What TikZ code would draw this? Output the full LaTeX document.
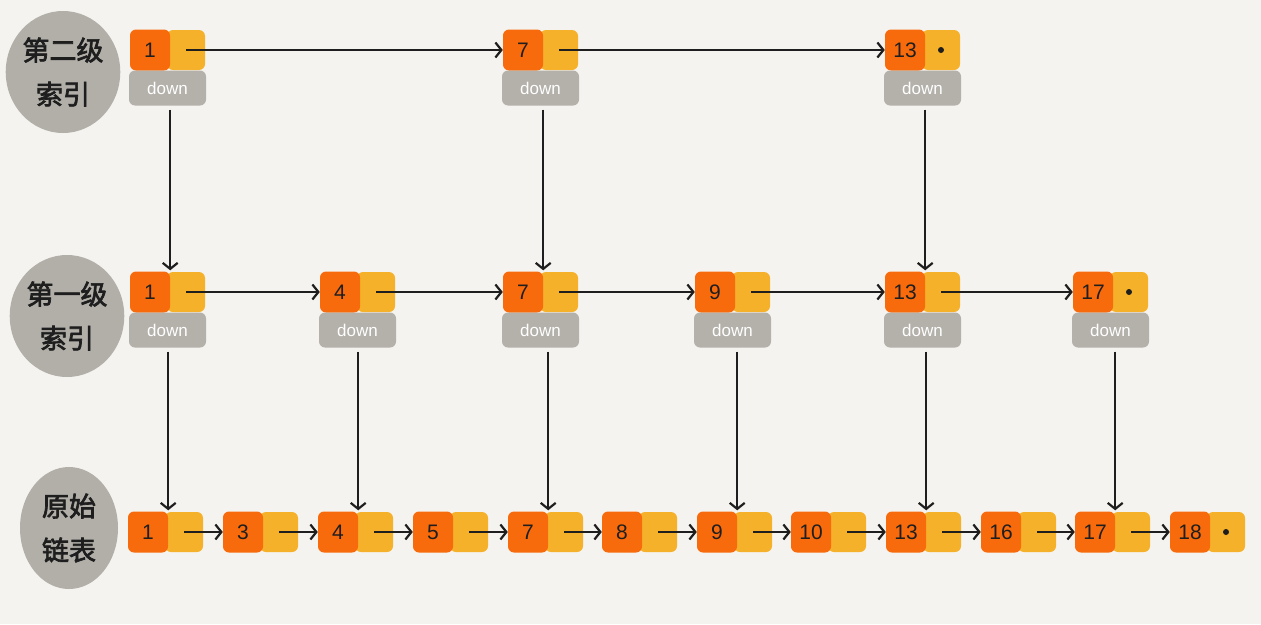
\documentclass[tikz,border=0pt]{standalone}
\usepackage{fontspec}
\setmainfont{Liberation Sans}
\newfontfamily\cjk[AutoFakeBold=2.5]{Noto Sans CJK SC}
\usetikzlibrary{arrows.meta,shapes.geometric}
\definecolor{bg}{HTML}{F5F3EF}
\definecolor{org}{HTML}{F86B0C}
\definecolor{yel}{HTML}{F5B12A}
\definecolor{dgray}{HTML}{B4B0AA}
\definecolor{blobc}{HTML}{B2AFA9}
\definecolor{ink}{HTML}{1E1E1E}
\tikzset{
  obox/.style={fill=org, rounded corners=6pt, minimum width=40pt, minimum height=41pt, inner sep=0pt, text=ink, font=\fontsize{21}{21}\selectfont},
  ybox/.style={fill=yel, rounded corners=6pt, minimum width=38pt, minimum height=40pt, inner sep=0pt},
  dbox/.style={fill=dgray, rounded corners=6pt, minimum width=77pt, minimum height=35pt, inner sep=0pt, text=white, font=\fontsize{17}{17}\selectfont},
  blob/.style={ellipse, fill=blobc, minimum width=98pt, minimum height=122pt, inner sep=0pt, align=center, text=ink, font=\cjk\bfseries\fontsize{27}{44}\selectfont},
  link/.style={draw=ink, line width=2.2pt, -{Straight Barb[length=6pt,width=15pt]}},
  nilp/.style={circle, fill=ink, inner sep=0pt, minimum size=6pt},
}
\newcommand\lnode[4]{%
  \node[ybox] (#1y) at (#2+36,#3) {};
  \node[obox] (#1o) at (#2,#3) {#4};
}
\newcommand\dnode[3]{%
  \node[dbox] (#1d) at (#2+17.5,#3+38) {down};
}
\begin{document}
\begin{tikzpicture}[x=1pt,y=-1pt]
\fill[bg] (0,0) rectangle (1261,624);
\useasboundingbox (0,0) rectangle (1261,624);

% level labels
\node[blob] (L3) at (63,72) {第二级\\索引};
\node[blob] (L2) at (67,316) {第一级\\索引};
\node[blob] (L1) at (69,528) {原始\\链表};

% second level index
\lnode{t1}{150}{50}{1}   \dnode{t1}{150}{50}
\lnode{t7}{523}{50}{7}   \dnode{t7}{523}{50}
\lnode{t13}{905}{50}{13} \dnode{t13}{905}{50}
\node[nilp] (t13n) at (t13y.center) {};

% first level index
\lnode{m1}{150}{292}{1}   \dnode{m1}{150}{292}
\lnode{m4}{340}{292}{4}   \dnode{m4}{340}{292}
\lnode{m7}{523}{292}{7}   \dnode{m7}{523}{292}
\lnode{m9}{715}{292}{9}   \dnode{m9}{715}{292}
\lnode{m13}{905}{292}{13} \dnode{m13}{905}{292}
\lnode{m17}{1093}{292}{17} \dnode{m17}{1093}{292}
\node[nilp] (m17n) at (m17y.center) {};

% original list
\lnode{b1}{148}{532}{1}
\lnode{b3}{243}{532}{3}
\lnode{b4}{338}{532}{4}
\lnode{b5}{433}{532}{5}
\lnode{b7}{528}{532}{7}
\lnode{b8}{622}{532}{8}
\lnode{b9}{717}{532}{9}
\lnode{b10}{811}{532}{10}
\lnode{b13}{906}{532}{13}
\lnode{b16}{1001}{532}{16}
\lnode{b17}{1095}{532}{17}
\lnode{b18}{1190}{532}{18}
\node[nilp] (b18n) at (b18y.center) {};

% horizontal links
\draw[link] (t1y.center) -- (t7o.west);
\draw[link] (t7y.center) -- (t13o.west);
\foreach \a/\b in {1/4,4/7,7/9,9/13,13/17}
  \draw[link] (m\a y.center) -- (m\b o.west);
\foreach \a/\b in {1/3,3/4,4/5,5/7,7/8,8/9,9/10,10/13,13/16,16/17,17/18}
  \draw[link] (b\a y.center) -- (b\b o.west);

% vertical links
\foreach \n in {1,7,13}
  \draw[link] ([yshift=-4pt]t\n d.south -| m\n o.north east) -- ([yshift=1pt]m\n o.north east);
\foreach \n in {1,4,7,9,13,17}
  \draw[link] ([yshift=-4pt]m\n d.south -| b\n o.north east) -- ([yshift=1pt]b\n o.north east);
\end{tikzpicture}
\end{document}
